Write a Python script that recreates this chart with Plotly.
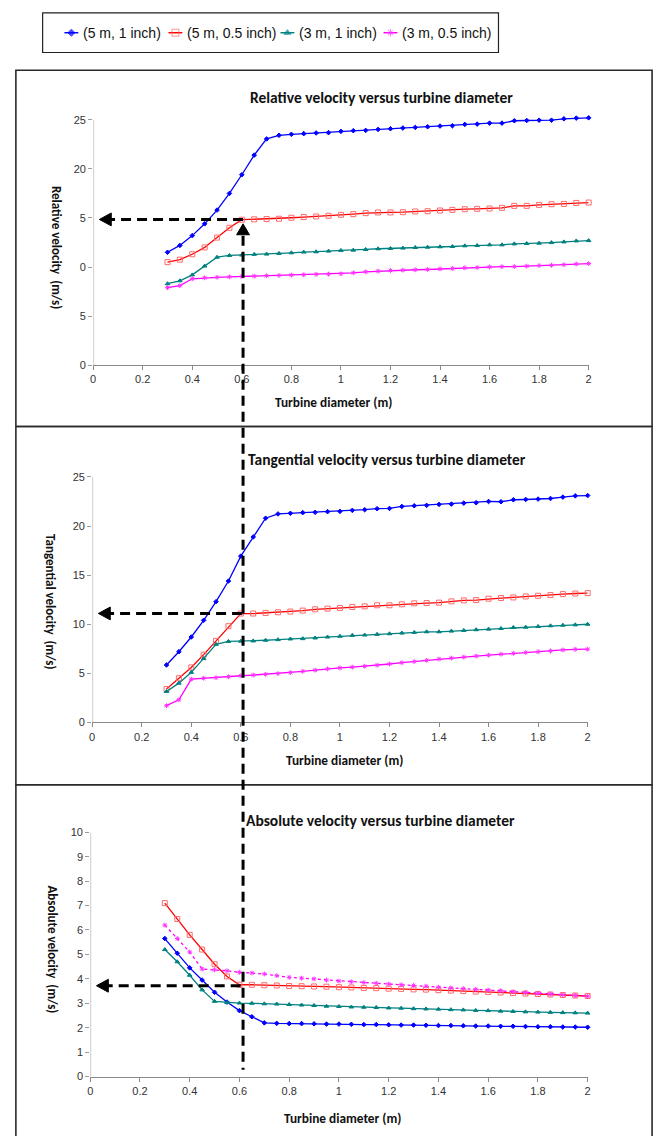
import plotly.graph_objects as go

W, H = 663, 1142

# ---------------- data ----------------
diameter = [0.30, 0.35, 0.40, 0.45, 0.50, 0.55, 0.60, 0.65, 0.70, 0.75, 0.80, 0.85,
            0.90, 0.95, 1.00, 1.05, 1.10, 1.15, 1.20, 1.25, 1.30, 1.35, 1.40, 1.45,
            1.50, 1.55, 1.60, 1.65, 1.70, 1.75, 1.80, 1.85, 1.90, 1.95, 2.00]

series_names = ["(5 m, 1 inch)", "(5 m, 0.5 inch)", "(3 m, 1 inch)", "(3 m, 0.5 inch)"]

rel_5m_1in = [11.5, 12.2, 13.2, 14.4, 15.8, 17.5, 19.4, 21.4, 23.05, 23.42, 23.52, 23.59,
              23.66, 23.69, 23.82, 23.89, 23.92, 24.02, 24.09, 24.16, 24.22, 24.29, 24.36, 24.39,
              24.53, 24.56, 24.66, 24.66, 24.9, 24.93, 24.96, 24.96, 25.1, 25.17, 25.2]
rel_5m_05in = [10.5, 10.75, 11.3, 12.0, 13.0, 14.0, 14.82, 14.86, 14.89, 14.92, 15.02, 15.09,
               15.15, 15.22, 15.32, 15.39, 15.49, 15.56, 15.56, 15.59, 15.66, 15.69, 15.76, 15.82,
               15.89, 15.93, 15.96, 16.03, 16.23, 16.23, 16.33, 16.4, 16.43, 16.53, 16.57]
rel_3m_1in = [8.3, 8.6, 9.2, 10.1, 11.0, 11.18, 11.22, 11.29, 11.32, 11.39, 11.45, 11.52,
              11.55, 11.62, 11.69, 11.72, 11.79, 11.86, 11.89, 11.93, 11.99, 12.02, 12.06, 12.09,
              12.16, 12.19, 12.26, 12.26, 12.36, 12.39, 12.43, 12.49, 12.56, 12.66, 12.69]
rel_3m_05in = [7.9, 8.1, 8.8, 8.9, 8.95, 9.0, 9.04, 9.07, 9.11, 9.14, 9.18, 9.21,
               9.25, 9.28, 9.31, 9.41, 9.51, 9.58, 9.65, 9.68, 9.72, 9.75, 9.81, 9.85,
               9.92, 9.95, 10.01, 10.04, 10.05, 10.09, 10.15, 10.18, 10.24, 10.31, 10.35]

tan_5m_1in = [5.85, 7.2, 8.7, 10.4, 12.3, 14.4, 16.94, 18.89, 20.8, 21.24, 21.3, 21.37,
              21.4, 21.47, 21.5, 21.6, 21.67, 21.77, 21.8, 22.0, 22.07, 22.11, 22.21, 22.24,
              22.34, 22.38, 22.51, 22.48, 22.68, 22.71, 22.75, 22.81, 22.95, 23.08, 23.11]
tan_5m_05in = [3.4, 4.5, 5.6, 6.9, 8.3, 9.8, 11.09, 11.09, 11.15, 11.22, 11.29, 11.39,
               11.52, 11.59, 11.66, 11.76, 11.82, 11.93, 11.93, 12.03, 12.13, 12.16, 12.2, 12.33,
               12.43, 12.46, 12.6, 12.67, 12.73, 12.83, 12.9, 12.97, 13.07, 13.13, 13.17]
tan_3m_1in = [3.15, 4.0, 5.1, 6.5, 7.95, 8.25, 8.27, 8.3, 8.37, 8.43, 8.5, 8.53,
              8.6, 8.7, 8.77, 8.87, 8.9, 8.97, 9.03, 9.1, 9.17, 9.23, 9.23, 9.3,
              9.37, 9.44, 9.5, 9.57, 9.67, 9.7, 9.77, 9.84, 9.9, 9.94, 10.0]
tan_3m_05in = [1.7, 2.3, 4.4, 4.5, 4.55, 4.65, 4.75, 4.82, 4.9, 4.97, 5.07, 5.2,
               5.32, 5.45, 5.55, 5.63, 5.72, 5.82, 5.95, 6.08, 6.2, 6.32, 6.45, 6.55,
               6.65, 6.75, 6.85, 6.95, 7.03, 7.12, 7.2, 7.28, 7.38, 7.44, 7.46]

abs_5m_1in = [5.65, 5.05, 4.45, 3.95, 3.45, 3.05, 2.7, 2.45, 2.2, 2.18, 2.17, 2.17,
              2.16, 2.15, 2.15, 2.14, 2.13, 2.13, 2.12, 2.11, 2.11, 2.1, 2.09, 2.09,
              2.08, 2.07, 2.07, 2.06, 2.06, 2.05, 2.04, 2.04, 2.03, 2.03, 2.02]
abs_5m_05in = [7.1, 6.45, 5.8, 5.2, 4.6, 4.1, 3.76, 3.76, 3.74, 3.73, 3.71, 3.7,
               3.69, 3.68, 3.66, 3.65, 3.63, 3.62, 3.6, 3.59, 3.57, 3.56, 3.54, 3.52,
               3.5, 3.48, 3.46, 3.44, 3.42, 3.4, 3.38, 3.36, 3.34, 3.32, 3.3]
abs_3m_1in = [5.2, 4.7, 4.15, 3.55, 3.08, 3.03, 3.01, 3.0, 2.98, 2.97, 2.95, 2.93,
              2.91, 2.88, 2.87, 2.85, 2.84, 2.83, 2.81, 2.8, 2.78, 2.77, 2.76, 2.74,
              2.73, 2.71, 2.7, 2.68, 2.67, 2.65, 2.64, 2.63, 2.62, 2.61, 2.6]
abs_3m_05in = [6.2, 5.65, 5.1, 4.4, 4.37, 4.33, 4.27, 4.24, 4.2, 4.13, 4.06, 4.03,
               4.0, 3.95, 3.91, 3.88, 3.85, 3.82, 3.79, 3.76, 3.73, 3.7, 3.66, 3.63,
               3.6, 3.57, 3.54, 3.51, 3.47, 3.44, 3.41, 3.38, 3.35, 3.32, 3.29]

x_tick_vals = [0, 0.2, 0.4, 0.6, 0.8, 1.0, 1.2, 1.4, 1.6, 1.8, 2.0]
x_tick_text = ["0", "0.2", "0.4", "0.6", "0.8", "1", "1.2", "1.4", "1.6", "1.8", "2"]
y25_tick_vals = [0, 5, 10, 15, 20, 25]
rel_tick_text = ["0", "5", "0", "5", "20", "25"]      # as printed in the source figure
tan_tick_text = ["0", "5", "10", "15", "20", "25"]
abs_tick_vals = [0, 1, 2, 3, 4, 5, 6, 7, 8, 9, 10]
abs_tick_text = ["0", "1", "2", "3", "4", "5", "6", "7", "8", "9", "10"]

panel_titles = ["Relative velocity versus turbine diameter",
                "Tangential velocity versus turbine diameter",
                "Absolute velocity versus turbine diameter"]
y_titles = ["Relative velocity  (m/s)", "Tangential velocity  (m/s)", "Absolute velocity  (m/s)"]
x_title = "Turbine diameter (m)"

# design-point guide (read-off arrows)
guide_diameter = 0.605
guide_values = [14.85, 11.1, 3.72]
arrow_tip_x = 0.025

# ---------------- style ----------------
colors = ["#0000FF", "#FF0000", "#008080", "#FF00FF"]
marker_colors = ["#0000FF", "#FF6A6A", "#008080", "#FF33FF"]
symbols = ["diamond", "square-open", "triangle-up", "asterisk-open"]
msizes = [3.5, 5, 4, 4]

NARROW = "Liberation Sans Narrow, Arial Narrow, Liberation Sans, Arial, sans-serif"
CAL = "Carlito, Lato, Calibri, sans-serif"


def px_x(p):
    return p / W


def px_y(p):
    return 1 - p / H


# panel geometry (pixels): x-left, x-right, y of value 0, y of value ytop
panels = [
    dict(xl=91, xr=591, yb=363, yt=115, ytop=25, ymax=25.6),
    dict(xl=90, xr=590, yb=724, yt=476, ytop=25, ymax=25),
    dict(xl=88, xr=590, yb=1082, yt=835, ytop=10, ymax=10),
]
boxes = [(13, 65, 655, 425), (13, 425, 655, 787), (13, 787, 655, None)]
title_pos = [(382, 92), (388, 458), (381, 823)]
xtitle_pos = [(334, 401), (345, 763), (343, 1124)]
ytitle_pos = [(54, 244), (48, 602), (49, 953)]

legend_centers = [69, 174, 287, 391]
legend_y = 27

data_sets = [
    [rel_5m_1in, rel_5m_05in, rel_3m_1in, rel_3m_05in],
    [tan_5m_1in, tan_5m_05in, tan_3m_1in, tan_3m_05in],
    [abs_5m_1in, abs_5m_05in, abs_3m_1in, abs_3m_05in],
]

fig = go.Figure()

for pi, series in enumerate(data_sets):
    suffix = "" if pi == 0 else str(pi + 1)
    for si, ys in enumerate(series):
        dash = "solid"
        if pi == 2 and si == 3:
            dash = "dot"
        fig.add_trace(go.Scatter(
            x=diameter, y=ys, name=series_names[si], mode="lines+markers",
            xaxis="x" + suffix, yaxis="y" + suffix, showlegend=False,
            line=dict(color=colors[si], width=1.3, dash=dash),
            marker=dict(symbol=symbols[si], size=msizes[si], color=marker_colors[si],
                        line=dict(color=marker_colors[si], width=1)),
            cliponaxis=False, hoverinfo="x+y+name",
        ))

# legend samples drawn on an overlay axis measured in pixels
for si, c in enumerate(legend_centers):
    fig.add_trace(go.Scatter(
        x=[c - 7, c, c + 7], y=[legend_y] * 3, mode="lines+markers",
        xaxis="x4", yaxis="y4", showlegend=False, hoverinfo="skip",
        line=dict(color=colors[si], width=1.5),
        marker=dict(symbol=symbols[si], size=[0, msizes[si] + 2, 0], color=marker_colors[si],
                    line=dict(color=marker_colors[si], width=1)),
        cliponaxis=False,
    ))

layout = dict(
    width=W, height=H, margin=dict(l=0, r=0, t=0, b=0),
    paper_bgcolor="white", plot_bgcolor="rgba(0,0,0,0)",
    showlegend=False,
    xaxis4=dict(domain=[0, 1], range=[0, W], visible=False, anchor="y4", fixedrange=True),
    yaxis4=dict(domain=[0, 1], range=[H, 0], visible=False, anchor="x4", fixedrange=True),
)

shapes = []
annotations = []
tick_text_sets = [rel_tick_text, tan_tick_text, abs_tick_text]
tick_val_sets = [y25_tick_vals, y25_tick_vals, abs_tick_vals]

for pi, g in enumerate(panels):
    suffix = "" if pi == 0 else str(pi + 1)
    xa = "xaxis" + suffix
    ya = "yaxis" + suffix
    px_per_unit = (g["yb"] - g["yt"]) / g["ytop"]
    y_top_px = g["yb"] - px_per_unit * g["ymax"]
    layout[xa] = dict(
        domain=[px_x(g["xl"]), px_x(g["xr"])], range=[0, 2], anchor="y" + suffix,
        tickmode="array", tickvals=x_tick_vals, ticktext=x_tick_text,
        showline=True, linecolor="#8a8a8a", linewidth=1.2,
        ticks="outside", ticklen=4, tickcolor="#8a8a8a",
        showgrid=False, zeroline=False,
        tickfont=dict(family=NARROW, size=11, color="#333"),
    )
    layout[ya] = dict(
        domain=[px_y(g["yb"]), px_y(y_top_px)], range=[0, g["ymax"]], anchor="x" + suffix,
        tickmode="array", tickvals=tick_val_sets[pi], ticktext=tick_text_sets[pi],
        showline=False,
        ticks="outside", ticklen=4, tickcolor="#9a9a9a",
        showgrid=False, zeroline=False,
        tickfont=dict(family=NARROW, size=11, color="#333"),
    )
    # y axis line from 0 to the top tick only
    shapes.append(dict(type="line", xref="x" + suffix, yref="y" + suffix,
                       x0=0, x1=0, y0=0, y1=g["ytop"],
                       line=dict(color="#cfcfcf", width=2), layer="below"))
    # panel frame (last panel runs off the bottom edge)
    bx0, by0, bx1, by1 = boxes[pi]
    if by1 is None:
        path = (f"M {px_x(bx0)},0 L {px_x(bx0)},{px_y(by0)} "
                f"L {px_x(bx1)},{px_y(by0)} L {px_x(bx1)},0")
        shapes.append(dict(type="path", xref="paper", yref="paper", path=path,
                           line=dict(color="#2a2a2a", width=1.6), layer="below"))
    else:
        shapes.append(dict(type="rect", xref="paper", yref="paper",
                           x0=px_x(bx0), x1=px_x(bx1), y0=px_y(by1), y1=px_y(by0),
                           line=dict(color="#2a2a2a", width=1.6), layer="below"))
    # titles
    tx, ty = title_pos[pi]
    annotations.append(dict(text="<b>" + panel_titles[pi] + "</b>", xref="paper", yref="paper",
                            x=px_x(tx), y=px_y(ty), showarrow=False, xanchor="center",
                            yanchor="middle", font=dict(family=CAL, size=15.5, color="#111")))
    xx, xy = xtitle_pos[pi]
    annotations.append(dict(text="<b>" + x_title + "</b>", xref="paper", yref="paper",
                            x=px_x(xx), y=px_y(xy), showarrow=False, xanchor="center",
                            yanchor="middle", font=dict(family=CAL, size=13.3, color="#111")))
    yx, yy = ytitle_pos[pi]
    annotations.append(dict(text="<b>" + y_titles[pi] + "</b>", xref="paper", yref="paper",
                            x=px_x(yx), y=px_y(yy), showarrow=False, xanchor="center",
                            yanchor="middle", textangle=90,
                            font=dict(family=CAL, size=13, color="#111")))

    # horizontal read-off arrow
    units_per_px_y = 1.0 / px_per_unit
    units_per_px_x = 2.0 / (g["xr"] - g["xl"])
    gv = guide_values[pi]
    head_len = 12 * units_per_px_x
    head_half = 6.5 * units_per_px_y
    shapes.append(dict(type="line", xref="x" + suffix, yref="y" + suffix,
                       x0=guide_diameter, x1=arrow_tip_x + head_len * 0.8, y0=gv, y1=gv,
                       line=dict(color="black", width=3, dash="10px,6px")))
    shapes.append(dict(type="path", xref="x" + suffix, yref="y" + suffix,
                       path=f"M {arrow_tip_x},{gv} L {arrow_tip_x + head_len},{gv + head_half} "
                            f"L {arrow_tip_x + head_len},{gv - head_half} Z",
                       fillcolor="black", line=dict(color="black", width=1)))

# vertical read-off line with upward arrow head (spans all three panels)
g0 = panels[0]
ppu0 = (g0["yb"] - g0["yt"]) / g0["ytop"]
upy = 1.0 / ppu0
upx = 2.0 / (g0["xr"] - g0["xl"])
tip_val = guide_values[0] - 4.5 * upy
base_val = tip_val - 11 * upy
shapes.append(dict(type="path", xref="x", yref="y",
                   path=f"M {guide_diameter},{tip_val} L {guide_diameter - 6.5 * upx},{base_val} "
                        f"L {guide_diameter + 6.5 * upx},{base_val} Z",
                   fillcolor="black", line=dict(color="black", width=1)))
shapes.append(dict(type="line", xref="x", yref="paper",
                   x0=guide_diameter, x1=guide_diameter,
                   y0=px_y(g0["yb"] - base_val * ppu0 + 1), y1=px_y(1075),
                   line=dict(color="black", width=3, dash="10px,6px")))

# legend frame and labels
shapes.append(dict(type="rect", xref="paper", yref="paper",
                   x0=px_x(40), x1=px_x(500), y0=px_y(47), y1=px_y(7),
                   line=dict(color="#222", width=1.2)))
for si, c in enumerate(legend_centers):
    annotations.append(dict(text=series_names[si], xref="paper", yref="paper",
                            x=px_x(c + 10), y=px_y(legend_y), showarrow=False,
                            xanchor="left", yanchor="middle",
                            font=dict(family=NARROW, size=14, color="#111")))

layout["shapes"] = shapes
layout["annotations"] = annotations
fig.update_layout(**layout)

fig.write_html("out.html",
               config={"displayModeBar": False},
               post_script="document.body.style.margin='0px';document.body.style.overflow='hidden';")
